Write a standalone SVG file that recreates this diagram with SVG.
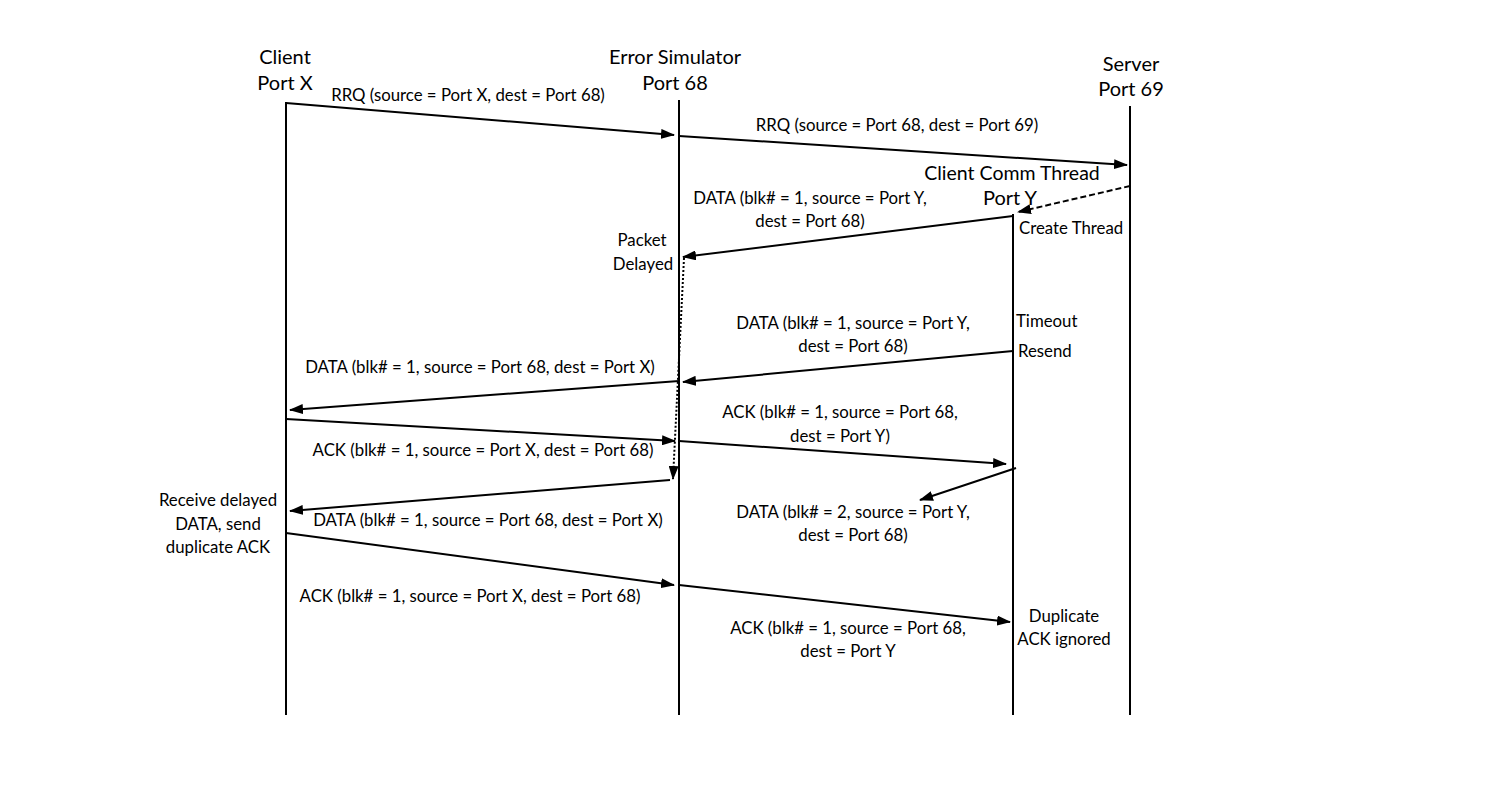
<svg xmlns="http://www.w3.org/2000/svg" width="1500" height="800" viewBox="0 0 1500 800">
<defs>
<marker id="ah" markerUnits="userSpaceOnUse" markerWidth="14" markerHeight="10" refX="13" refY="5" orient="auto">
<path d="M0,0 L14,5 L0,10 Z" fill="#000"/>
</marker>
<style>
.life{stroke:#000;stroke-width:2;fill:none}
.msg{stroke:#000;stroke-width:2;fill:none;marker-end:url(#ah)}
.dash{stroke-dasharray:6,3}
.dot{stroke-dasharray:2,2}
text{font-family:Lato,"Liberation Sans",sans-serif;fill:#000}
.hd{font-size:20px;text-anchor:middle}
.lb{font-size:16.8px;text-anchor:middle}
.ls{font-size:16.8px;text-anchor:start}
</style>
</defs>
<rect width="1500" height="800" fill="#fff"/>
<g id="client">
<text class="hd" x="285" y="64">Client</text>
<text class="hd" x="285" y="90">Port X</text>
<line class="life" x1="286" y1="102" x2="286" y2="715"/>
</g>
<g id="errorsim">
<text class="hd" x="675" y="64">Error Simulator</text>
<text class="hd" x="675" y="90">Port 68</text>
<line class="life" x1="679" y1="100" x2="679" y2="715"/>
</g>
<g id="server">
<text class="hd" x="1131" y="71">Server</text>
<text class="hd" x="1131" y="96">Port 69</text>
<line class="life" x1="1130" y1="106" x2="1130" y2="715"/>
</g>
<g id="commthread">
<text class="hd" x="1012" y="180" style="font-size:19.5px">Client Comm Thread</text>
<text class="hd" x="1010" y="205">Port Y</text>
<line class="life" x1="1013" y1="214" x2="1013" y2="715"/>
</g>
<g id="notes">
<text class="ls" x="1019" y="234">Create Thread</text>
<text class="lb" x="642" y="246">Packet</text>
<text class="lb" x="643" y="270">Delayed</text>
<text class="ls" x="1016" y="327">Timeout</text>
<text class="ls" x="1018" y="357">Resend</text>
<text class="lb" x="218" y="506">Receive delayed</text>
<text class="lb" x="218" y="530">DATA, send</text>
<text class="lb" x="218" y="553">duplicate ACK</text>
<text class="lb" x="1064" y="622">Duplicate</text>
<text class="lb" x="1064" y="645">ACK ignored</text>
</g>
<g id="connectors">
<line class="msg" x1="286" y1="103" x2="674" y2="135"/>
<line class="msg" x1="679" y1="136" x2="1127" y2="165"/>
<line class="msg dash" x1="1130" y1="186" x2="1018" y2="212"/>
<line class="msg" x1="1013" y1="216" x2="683" y2="257"/>
<line class="msg dot" x1="684" y1="258" x2="673" y2="479"/>
<line class="msg" x1="1013" y1="351" x2="683" y2="382"/>
<line class="msg" x1="679" y1="381" x2="290" y2="410"/>
<line class="msg" x1="286" y1="419" x2="675" y2="441"/>
<line class="msg" x1="679" y1="441" x2="1006" y2="464"/>
<line class="msg" x1="1016" y1="468" x2="920" y2="500"/>
<line class="msg" x1="670" y1="480" x2="290" y2="511"/>
<line class="msg" x1="286" y1="533" x2="674" y2="585"/>
<line class="msg" x1="679" y1="585" x2="1010" y2="622"/>
</g>
<g id="labels">
<text class="lb" x="468" y="101">RRQ (source = Port X, dest = Port 68)</text>
<text class="lb" x="897" y="131">RRQ (source = Port 68, dest = Port 69)</text>
<text class="lb" x="810" y="204">DATA (blk# = 1, source = Port Y,</text>
<text class="lb" x="810" y="227">dest = Port 68)</text>
<text class="lb" x="853" y="329">DATA (blk# = 1, source = Port Y,</text>
<text class="lb" x="853" y="352">dest = Port 68)</text>
<text class="lb" x="480" y="373">DATA (blk# = 1, source = Port 68, dest = Port X)</text>
<text class="lb" x="840" y="418">ACK (blk# = 1, source = Port 68,</text>
<text class="lb" x="840" y="442">dest = Port Y)</text>
<text class="lb" x="483" y="456">ACK (blk# = 1, source = Port X, dest = Port 68)</text>
<text class="lb" x="853" y="518">DATA (blk# = 2, source = Port Y,</text>
<text class="lb" x="853" y="541">dest = Port 68)</text>
<text class="lb" x="488" y="526">DATA (blk# = 1, source = Port 68, dest = Port X)</text>
<text class="lb" x="470" y="602">ACK (blk# = 1, source = Port X, dest = Port 68)</text>
<text class="lb" x="848" y="634">ACK (blk# = 1, source = Port 68,</text>
<text class="lb" x="848" y="657">dest = Port Y</text>
</g>
</svg>
